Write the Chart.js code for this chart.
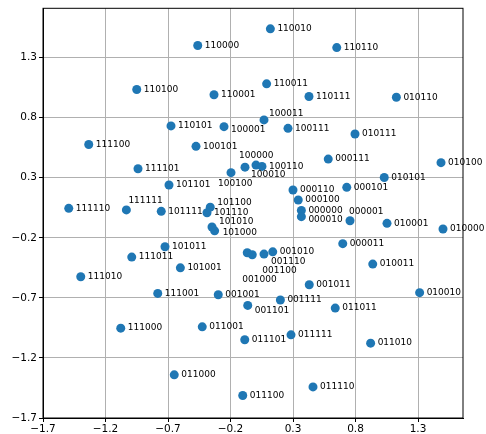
<!DOCTYPE html>
<html>
<head>
<meta charset="utf-8">
<script src="https://cdn.jsdelivr.net/npm/chart.js@4"></script>
<style>
  body { margin: 0; background: #fff; }
  #wrap { width: 486px; height: 434px; }
</style>
</head>
<body>
<div id="wrap"><canvas id="chart"></canvas></div>
<script>
// codes and their 2D coordinates
const codes = [
  '000000','000001','000010','000011','000100','000101','000110','000111',
  '001000','001001','001010','001011','001100','001101','001110','001111',
  '010000','010001','010010','010011','010100','010101','010110','010111',
  '011000','011001','011010','011011','011100','011101','011110','011111',
  '100000','100001','100010','100011','100100','100101','100110','100111',
  '101000','101001','101010','101011','101100','101101','101110','101111',
  '110000','110001','110010','110011','110100','110101','110110','110111',
  '111000','111001','111010','111011','111100','111101','111110','111111'
];
const xValues = [
  0.367, 0.756, 0.367, 0.698, 0.342, 0.73, 0.30, 0.582,
  -0.066, -0.298, 0.138, 0.43, -0.026, -0.062, 0.068, 0.199,
  1.50, 1.052, 1.313, 0.938, 1.484, 1.03, 1.127, 0.796,
  -0.65, -0.426, 0.921, 0.638, -0.102, -0.086, 0.46, 0.284,
  -0.084, -0.252, 0.004, 0.068, -0.196, -0.476, 0.052, 0.26,
  -0.327, -0.601, -0.348, -0.724, -0.362, -0.692, -0.388, -0.754,
  -0.462, -0.332, 0.119, 0.089, -0.95, -0.676, 0.65, 0.428,
  -1.078, -0.782, -1.398, -0.99, -1.334, -0.94, -1.494, -1.033
];
const yValues = [
  0.028, -0.058, -0.024, -0.249, 0.114, 0.22, 0.198, 0.455,
  -0.325, -0.674, -0.317, -0.591, -0.341, -0.763, -0.336, -0.718,
  -0.127, -0.08, -0.657, -0.419, 0.425, 0.302, 0.97, 0.664,
  -1.341, -0.941, -1.077, -0.785, -1.513, -1.049, -1.441, -1.008,
  0.388, 0.725, 0.405, 0.781, 0.342, 0.561, 0.394, 0.711,
  -0.142, -0.45, -0.11, -0.275, 0.055, 0.239, 0.008, 0.02,
  1.40, 0.99, 1.539, 1.081, 1.034, 0.731, 1.383, 0.976,
  -0.952, -0.663, -0.524, -0.361, 0.576, 0.375, 0.045, 0.032
];
const xTicks = [-1.7, -1.2, -0.7, -0.2, 0.3, 0.8, 1.3];
const yTicks = [-1.7, -1.2, -0.7, -0.2, 0.3, 0.8, 1.3];

// label nudges (px) where the labels were pushed apart
const labelShift = {
  '111111': [2, -9], '100100': [-13, 11], '100000': [-6, -11], '100010': [-5, 10],
  '100011': [5, -6], '100001': [7, 3], '101100': [7, -4], '101010': [7, -5],
  '101000': [8, 2], '001110': [7, 8], '001100': [10, 16], '001000': [-5, 27],
  '001101': [7, 5], '000001': [-1, -9], '000010': [7, 3]
};

const fmt = v => {
  const s = Math.abs(v).toFixed(1);
  return v < -1e-9 ? '\u2212' + s : s;
};

const pointLabels = {
  id: 'pointLabels',
  afterDatasetsDraw(chart) {
    const ctx = chart.ctx;
    const meta = chart.getDatasetMeta(0);
    ctx.save();
    ctx.font = '9px "DejaVu Sans"';
    ctx.fillStyle = '#000';
    ctx.textBaseline = 'middle';
    ctx.textAlign = 'left';
    meta.data.forEach((pt, i) => {
      const s = labelShift[codes[i]] || [7, 0];
      ctx.fillText(codes[i], pt.x + s[0], pt.y + s[1]);
    });
    ctx.restore();
  }
};

const frame = {
  id: 'frame',
  afterDraw(chart) {
    const a = chart.chartArea;
    const ctx = chart.ctx;
    ctx.save();
    ctx.strokeStyle = '#000';
    ctx.lineWidth = 1;
    ctx.strokeRect(a.left, a.top, a.right - a.left, a.bottom - a.top);
    ctx.restore();
  }
};

new Chart(document.getElementById('chart'), {
  type: 'scatter',
  data: {
    datasets: [{
      data: xValues.map((x, i) => ({ x: x, y: yValues[i] })),
      backgroundColor: '#1f77b4',
      borderWidth: 0,
      pointRadius: 4.5,
      pointHoverRadius: 4.5
    }]
  },
  options: {
    responsive: true,
    maintainAspectRatio: false,
    animation: false,
    layout: { padding: { top: 8, right: 23, left: 0, bottom: 0 } },
    plugins: { legend: { display: false }, tooltip: { enabled: false } },
    scales: {
      x: {
        type: 'linear',
        min: -1.7,
        max: 1.66,
        afterBuildTicks: s => { s.ticks = xTicks.map(v => ({ value: v })); },
        afterFit: s => { s.height = 16; },
        grid: { color: '#b0b0b0', tickColor: '#000', tickLength: 4 },
        border: { color: '#000' },
        ticks: { color: '#000', padding: 1, maxRotation: 0, font: { family: 'DejaVu Sans', size: 10.5 }, callback: v => fmt(v) }
      },
      y: {
        type: 'linear',
        min: -1.7,
        max: 1.71,
        afterBuildTicks: s => { s.ticks = yTicks.map(v => ({ value: v })); },
        afterFit: s => { s.width = 43; },
        grid: { color: '#b0b0b0', tickColor: '#000', tickLength: 4 },
        border: { color: '#000' },
        ticks: { color: '#000', padding: 2, font: { family: 'DejaVu Sans', size: 10.5 }, callback: v => fmt(v) }
      }
    }
  },
  plugins: [pointLabels, frame]
});
</script>
</body>
</html>
